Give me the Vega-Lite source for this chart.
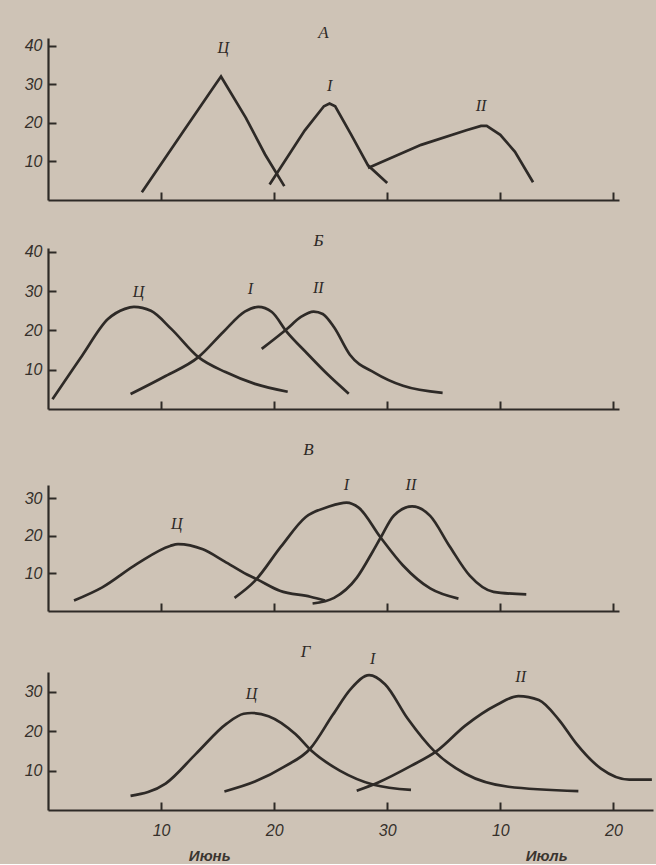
{
  "$schema": "https://vega.github.io/schema/vega-lite/v6.json",
  "background": "#cec3b6",
  "padding": {"left": 24, "top": 24, "right": 0, "bottom": 0},
  "spacing": 30,
  "config": {
    "view": {"stroke": null},
    "title": {"font": "Liberation Serif", "fontStyle": "italic", "fontSize": 17, "fontWeight": "normal", "color": "#2e2a27", "anchor": "middle"},
    "axis": {"domainColor": "#2e2a27", "domainWidth": 2.2, "tickColor": "#2e2a27", "tickWidth": 2, "grid": false, "title": null, "labelFont": "Liberation Sans", "labelFontStyle": "italic", "labelFontSize": 16, "labelColor": "#35302b"},
    "line": {"color": "#2e2a27", "strokeWidth": 2.7},
    "text": {"font": "Liberation Serif", "fontStyle": "italic", "fontSize": 16, "color": "#2e2a27"}
  },
  "datasets": {
    "curves": [
      {"panel": "А", "series": "Ц", "day": 8.3, "value": 2},
      {"panel": "А", "series": "Ц", "day": 11.9, "value": 17.5},
      {"panel": "А", "series": "Ц", "day": 14.7, "value": 29.5},
      {"panel": "А", "series": "Ц", "day": 15.3, "value": 32},
      {"panel": "А", "series": "Ц", "day": 17.5, "value": 21.3},
      {"panel": "А", "series": "Ц", "day": 19.2, "value": 11.8},
      {"panel": "А", "series": "Ц", "day": 20.9, "value": 3.6},
      {"panel": "А", "series": "I", "day": 19.6, "value": 4},
      {"panel": "А", "series": "I", "day": 22.7, "value": 18},
      {"panel": "А", "series": "I", "day": 24.4, "value": 24.3},
      {"panel": "А", "series": "I", "day": 24.9, "value": 25},
      {"panel": "А", "series": "I", "day": 25.4, "value": 24.3},
      {"panel": "А", "series": "I", "day": 26.8, "value": 17},
      {"panel": "А", "series": "I", "day": 28.3, "value": 9},
      {"panel": "А", "series": "I", "day": 30, "value": 4.4},
      {"panel": "А", "series": "II", "day": 28.3, "value": 8.3},
      {"panel": "А", "series": "II", "day": 33, "value": 14.3},
      {"panel": "А", "series": "II", "day": 37, "value": 18.1},
      {"panel": "А", "series": "II", "day": 38.3, "value": 19.2},
      {"panel": "А", "series": "II", "day": 38.8, "value": 19.2},
      {"panel": "А", "series": "II", "day": 40, "value": 16.9},
      {"panel": "А", "series": "II", "day": 41.3, "value": 12.5},
      {"panel": "А", "series": "II", "day": 42.9, "value": 4.6},

      {"panel": "Б", "series": "Ц", "day": 0.4, "value": 2.5},
      {"panel": "Б", "series": "Ц", "day": 3.0, "value": 13.5},
      {"panel": "Б", "series": "Ц", "day": 5.3, "value": 22.9},
      {"panel": "Б", "series": "Ц", "day": 6.8, "value": 25.5},
      {"panel": "Б", "series": "Ц", "day": 7.6, "value": 26},
      {"panel": "Б", "series": "Ц", "day": 9.1, "value": 25},
      {"panel": "Б", "series": "Ц", "day": 10.9, "value": 20.4},
      {"panel": "Б", "series": "Ц", "day": 13.3, "value": 13.2},
      {"panel": "Б", "series": "Ц", "day": 15.7, "value": 9.4},
      {"panel": "Б", "series": "Ц", "day": 18.3, "value": 6.4},
      {"panel": "Б", "series": "Ц", "day": 21.2, "value": 4.4},
      {"panel": "Б", "series": "I", "day": 7.3, "value": 3.8},
      {"panel": "Б", "series": "I", "day": 10.4, "value": 8.4},
      {"panel": "Б", "series": "I", "day": 13.3, "value": 13.2},
      {"panel": "Б", "series": "I", "day": 15.5, "value": 19.6},
      {"panel": "Б", "series": "I", "day": 17.4, "value": 24.8},
      {"panel": "Б", "series": "I", "day": 18.6, "value": 26},
      {"panel": "Б", "series": "I", "day": 19.8, "value": 24.7},
      {"panel": "Б", "series": "I", "day": 21.1, "value": 19.7},
      {"panel": "Б", "series": "I", "day": 22.9, "value": 14.2},
      {"panel": "Б", "series": "I", "day": 24.7, "value": 8.9},
      {"panel": "Б", "series": "I", "day": 26.6, "value": 3.9},
      {"panel": "Б", "series": "II", "day": 18.9, "value": 15.3},
      {"panel": "Б", "series": "II", "day": 21.1, "value": 20.3},
      {"panel": "Б", "series": "II", "day": 22.4, "value": 23.5},
      {"panel": "Б", "series": "II", "day": 23.5, "value": 24.8},
      {"panel": "Б", "series": "II", "day": 24.3, "value": 24.2},
      {"panel": "Б", "series": "II", "day": 25.3, "value": 20.8},
      {"panel": "Б", "series": "II", "day": 26.7, "value": 13.8},
      {"panel": "Б", "series": "II", "day": 28.9, "value": 9.2},
      {"panel": "Б", "series": "II", "day": 31.4, "value": 5.9},
      {"panel": "Б", "series": "II", "day": 34.9, "value": 4.1},

      {"panel": "В", "series": "Ц", "day": 2.3, "value": 2.8},
      {"panel": "В", "series": "Ц", "day": 4.8, "value": 6.3},
      {"panel": "В", "series": "Ц", "day": 7.9, "value": 12.6},
      {"panel": "В", "series": "Ц", "day": 10.8, "value": 17.3},
      {"panel": "В", "series": "Ц", "day": 11.5, "value": 17.8},
      {"panel": "В", "series": "Ц", "day": 13.7, "value": 16.4},
      {"panel": "В", "series": "Ц", "day": 15.6, "value": 13.2},
      {"panel": "В", "series": "Ц", "day": 17.6, "value": 9.7},
      {"panel": "В", "series": "Ц", "day": 18.5, "value": 8.4},
      {"panel": "В", "series": "Ц", "day": 20.5, "value": 5.4},
      {"panel": "В", "series": "Ц", "day": 23.2, "value": 3.8},
      {"panel": "В", "series": "Ц", "day": 24.5, "value": 2.8},
      {"panel": "В", "series": "I", "day": 16.5, "value": 3.5},
      {"panel": "В", "series": "I", "day": 18.3, "value": 8},
      {"panel": "В", "series": "I", "day": 20.6, "value": 17.1},
      {"panel": "В", "series": "I", "day": 22.8, "value": 25},
      {"panel": "В", "series": "I", "day": 24.8, "value": 27.7},
      {"panel": "В", "series": "I", "day": 26.4, "value": 28.8},
      {"panel": "В", "series": "I", "day": 27.5, "value": 27.4},
      {"panel": "В", "series": "I", "day": 29.4, "value": 19.6},
      {"panel": "В", "series": "I", "day": 31.4, "value": 12.1},
      {"panel": "В", "series": "I", "day": 33.8, "value": 6},
      {"panel": "В", "series": "I", "day": 36.3, "value": 3.3},
      {"panel": "В", "series": "II", "day": 23.4, "value": 2},
      {"panel": "В", "series": "II", "day": 25.3, "value": 3.5},
      {"panel": "В", "series": "II", "day": 27.3, "value": 8.8},
      {"panel": "В", "series": "II", "day": 28.7, "value": 15.7},
      {"panel": "В", "series": "II", "day": 29.4, "value": 19.4},
      {"panel": "В", "series": "II", "day": 30.6, "value": 25.4},
      {"panel": "В", "series": "II", "day": 32.2, "value": 27.8},
      {"panel": "В", "series": "II", "day": 33.8, "value": 25.3},
      {"panel": "В", "series": "II", "day": 35.5, "value": 17.3},
      {"panel": "В", "series": "II", "day": 37.3, "value": 9.4},
      {"panel": "В", "series": "II", "day": 39.4, "value": 5.1},
      {"panel": "В", "series": "II", "day": 42.3, "value": 4.4},

      {"panel": "Г", "series": "Ц", "day": 7.3, "value": 3.6},
      {"panel": "Г", "series": "Ц", "day": 10.4, "value": 6.7},
      {"panel": "Г", "series": "Ц", "day": 13.1, "value": 14.3},
      {"panel": "Г", "series": "Ц", "day": 15.8, "value": 21.9},
      {"panel": "Г", "series": "Ц", "day": 17.3, "value": 24.4},
      {"panel": "Г", "series": "Ц", "day": 18.0, "value": 24.6},
      {"panel": "Г", "series": "Ц", "day": 19.5, "value": 23.8},
      {"panel": "Г", "series": "Ц", "day": 21.9, "value": 19.2},
      {"panel": "Г", "series": "Ц", "day": 23.3, "value": 15.0},
      {"panel": "Г", "series": "Ц", "day": 25.8, "value": 10.0},
      {"panel": "Г", "series": "Ц", "day": 28.8, "value": 6.4},
      {"panel": "Г", "series": "Ц", "day": 32.1, "value": 5.1},
      {"panel": "Г", "series": "I", "day": 15.6, "value": 4.7},
      {"panel": "Г", "series": "I", "day": 18.3, "value": 7.2},
      {"panel": "Г", "series": "I", "day": 20.9, "value": 11.0},
      {"panel": "Г", "series": "I", "day": 23.2, "value": 15.6},
      {"panel": "Г", "series": "I", "day": 25.2, "value": 24.2},
      {"panel": "Г", "series": "I", "day": 26.8, "value": 30.8},
      {"panel": "Г", "series": "I", "day": 28.4, "value": 34.2},
      {"panel": "Г", "series": "I", "day": 29.8, "value": 31.9},
      {"panel": "Г", "series": "I", "day": 31.8, "value": 23.2},
      {"panel": "Г", "series": "I", "day": 34.2, "value": 14.8},
      {"panel": "Г", "series": "I", "day": 36.9, "value": 9.2},
      {"panel": "Г", "series": "I", "day": 40.7, "value": 5.9},
      {"panel": "Г", "series": "I", "day": 46.9, "value": 4.8},
      {"panel": "Г", "series": "II", "day": 27.3, "value": 4.9},
      {"panel": "Г", "series": "II", "day": 29.2, "value": 7.0},
      {"panel": "Г", "series": "II", "day": 32.1, "value": 11.2},
      {"panel": "Г", "series": "II", "day": 34.4, "value": 15.0},
      {"panel": "Г", "series": "II", "day": 36.9, "value": 21.4},
      {"panel": "Г", "series": "II", "day": 39.7, "value": 26.7},
      {"panel": "Г", "series": "II", "day": 41.6, "value": 28.9},
      {"panel": "Г", "series": "II", "day": 43.4, "value": 27.9},
      {"panel": "Г", "series": "II", "day": 45.2, "value": 22.8},
      {"panel": "Г", "series": "II", "day": 46.7, "value": 16.9},
      {"panel": "Г", "series": "II", "day": 48.9, "value": 10.5},
      {"panel": "Г", "series": "II", "day": 51.4, "value": 7.7},
      {"panel": "Г", "series": "II", "day": 53.4, "value": 7.7}
    ],
    "labels": [
      {"panel": "А", "label": "Ц", "day": 15.5, "value": 39.5},
      {"panel": "А", "label": "I", "day": 24.9, "value": 29.5},
      {"panel": "А", "label": "II", "day": 38.3, "value": 24.4},
      {"panel": "Б", "label": "Ц", "day": 8, "value": 29.8},
      {"panel": "Б", "label": "I", "day": 17.9, "value": 30.5},
      {"panel": "Б", "label": "II", "day": 23.9, "value": 30.9},
      {"panel": "В", "label": "Ц", "day": 11.4, "value": 23},
      {"panel": "В", "label": "I", "day": 26.4, "value": 33.6},
      {"panel": "В", "label": "II", "day": 32.1, "value": 33.6},
      {"panel": "Г", "label": "Ц", "day": 18, "value": 29.3},
      {"panel": "Г", "label": "I", "day": 28.7, "value": 38.4},
      {"panel": "Г", "label": "II", "day": 41.8, "value": 33.7}
    ],
    "months": [
      {"label": "Июнь", "day": 14.3, "value": -11.6},
      {"label": "Июль", "day": 44.1, "value": -11.6}
    ]
  },
  "vconcat": [
    {
      "width": 571, "height": 162,
      "title": {"text": "А", "offset": -4.5, "dx": -10},
      "layer": [
        {
          "data": {"name": "curves"},
          "transform": [{"filter": "datum.panel === 'А'"}],
          "mark": {"type": "line", "interpolate": "linear"},
          "encoding": {
            "x": {"field": "day", "type": "quantitative", "scale": {"domain": [0, 50.5], "nice": false}, "axis": {"values": [10, 20, 30, 40, 50], "labels": false, "tickSize": -8}},
            "y": {"field": "value", "type": "quantitative", "scale": {"domain": [0, 42], "nice": false}, "axis": {"values": [10, 20, 30, 40], "tickSize": -8, "labelPadding": 14}},
            "detail": {"field": "series"}
          }
        },
        {
          "data": {"name": "labels"},
          "transform": [{"filter": "datum.panel === 'А'"}],
          "mark": {"type": "text"},
          "encoding": {
            "x": {"field": "day", "type": "quantitative"},
            "y": {"field": "value", "type": "quantitative"},
            "text": {"field": "label"}
          }
        }
      ]
    },
    {
      "width": 571, "height": 161,
      "title": {"text": "Б", "offset": -6, "dx": -15},
      "layer": [
        {
          "data": {"name": "curves"},
          "transform": [{"filter": "datum.panel === 'Б'"}],
          "mark": {"type": "line", "interpolate": "monotone"},
          "encoding": {
            "x": {"field": "day", "type": "quantitative", "scale": {"domain": [0, 50.5], "nice": false}, "axis": {"values": [10, 20, 30, 40, 50], "labels": false, "tickSize": -8}},
            "y": {"field": "value", "type": "quantitative", "scale": {"domain": [0, 41], "nice": false}, "axis": {"values": [10, 20, 30, 40], "tickSize": -8, "labelPadding": 14}},
            "detail": {"field": "series"}
          }
        },
        {
          "data": {"name": "labels"},
          "transform": [{"filter": "datum.panel === 'Б'"}],
          "mark": {"type": "text"},
          "encoding": {
            "x": {"field": "day", "type": "quantitative"},
            "y": {"field": "value", "type": "quantitative"},
            "text": {"field": "label"}
          }
        }
      ]
    },
    {
      "width": 571, "height": 126,
      "title": {"text": "В", "offset": 18, "dx": -25},
      "layer": [
        {
          "data": {"name": "curves"},
          "transform": [{"filter": "datum.panel === 'В'"}],
          "mark": {"type": "line", "interpolate": "monotone"},
          "encoding": {
            "x": {"field": "day", "type": "quantitative", "scale": {"domain": [0, 50.5], "nice": false}, "axis": {"values": [10, 20, 30, 40, 50], "labels": false, "tickSize": -8}},
            "y": {"field": "value", "type": "quantitative", "scale": {"domain": [0, 33.5], "nice": false}, "axis": {"values": [10, 20, 30], "tickSize": -8, "labelPadding": 14}},
            "detail": {"field": "series"}
          }
        },
        {
          "data": {"name": "labels"},
          "transform": [{"filter": "datum.panel === 'В'"}],
          "mark": {"type": "text"},
          "encoding": {
            "x": {"field": "day", "type": "quantitative"},
            "y": {"field": "value", "type": "quantitative"},
            "text": {"field": "label"}
          }
        }
      ]
    },
    {
      "width": 605, "height": 138,
      "title": {"text": "Г", "offset": -10, "dx": -45},
      "layer": [
        {
          "data": {"name": "curves"},
          "transform": [{"filter": "datum.panel === 'Г'"}],
          "mark": {"type": "line", "interpolate": "monotone"},
          "encoding": {
            "x": {"field": "day", "type": "quantitative", "scale": {"domain": [0, 53.5], "nice": false}, "axis": {"values": [10, 20, 30, 40, 50], "tickSize": -8, "labelPadding": 20, "labelExpr": "datum.value > 30 ? datum.value - 30 : datum.value"}},
            "y": {"field": "value", "type": "quantitative", "scale": {"domain": [0, 35], "nice": false}, "axis": {"values": [10, 20, 30], "tickSize": -8, "labelPadding": 14}},
            "detail": {"field": "series"}
          }
        },
        {
          "data": {"name": "labels"},
          "transform": [{"filter": "datum.panel === 'Г'"}],
          "mark": {"type": "text"},
          "encoding": {
            "x": {"field": "day", "type": "quantitative"},
            "y": {"field": "value", "type": "quantitative"},
            "text": {"field": "label"}
          }
        },
        {
          "data": {"name": "months"},
          "mark": {"type": "text", "font": "Liberation Sans", "fontSize": 15, "fontStyle": "italic", "fontWeight": "bold", "color": "#3a3530"},
          "encoding": {
            "x": {"field": "day", "type": "quantitative"},
            "y": {"field": "value", "type": "quantitative"},
            "text": {"field": "label"}
          }
        }
      ]
    }
  ]
}
